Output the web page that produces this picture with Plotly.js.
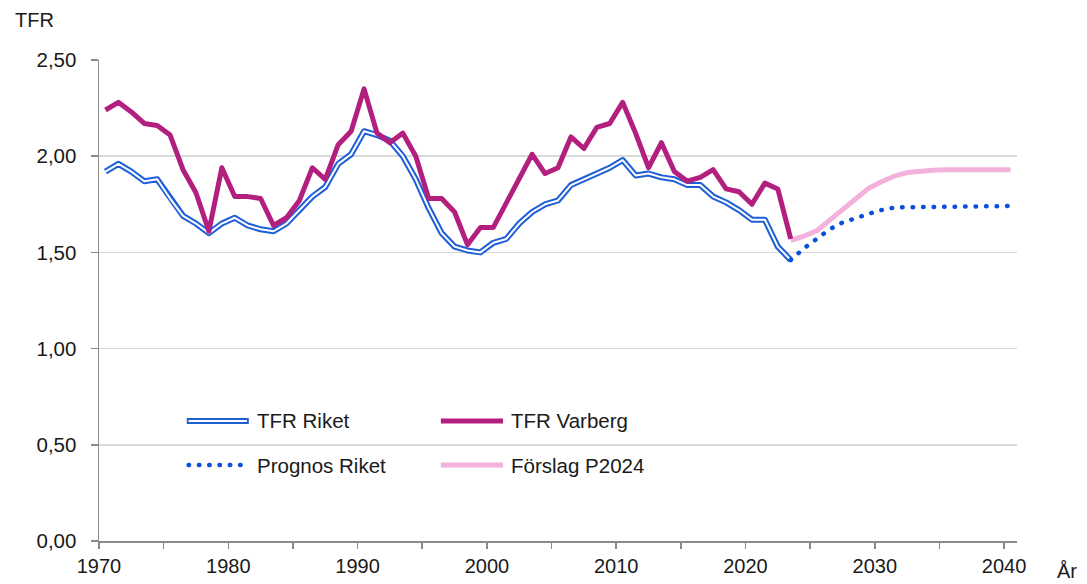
<!DOCTYPE html>
<html>
<head>
<meta charset="utf-8">
<script src="https://cdn.plot.ly/plotly-3.0.1.min.js"></script>
<style>
  html, body { margin: 0; padding: 0; background: #fff; }
  #chart { width: 1087px; height: 584px; }
  .scatterlayer path.js-line { stroke-linejoin: round; }
</style>
</head>
<body>
<div id="chart"></div>
<script>
// ---- Data ----
const histYears = [];
for (let y = 1970; y <= 2023; y++) histYears.push(y);

const tfrRiket = [
  1.92, 1.96, 1.92, 1.87, 1.88, 1.78, 1.69, 1.65, 1.60, 1.65,
  1.68, 1.64, 1.62, 1.61, 1.65, 1.72, 1.79, 1.84, 1.96, 2.01,
  2.13, 2.11, 2.08, 2.00, 1.88, 1.73, 1.60, 1.53, 1.51, 1.50,
  1.55, 1.57, 1.65, 1.71, 1.75, 1.77, 1.85, 1.88, 1.91, 1.94,
  1.98, 1.90, 1.91, 1.89, 1.88, 1.85, 1.85, 1.79, 1.76, 1.72,
  1.67, 1.67, 1.53, 1.46
];

const tfrVarberg = [
  2.24, 2.28, 2.23, 2.17, 2.16, 2.11, 1.93, 1.81, 1.61, 1.94,
  1.79, 1.79, 1.78, 1.64, 1.68, 1.77, 1.94, 1.88, 2.06, 2.13,
  2.35, 2.12, 2.07, 2.12, 2.00, 1.78, 1.78, 1.71, 1.54, 1.63,
  1.63, 1.76, 1.89, 2.01, 1.91, 1.94, 2.10, 2.04, 2.15, 2.17,
  2.28, 2.12, 1.94, 2.07, 1.92, 1.87, 1.89, 1.93, 1.83, 1.815,
  1.75, 1.86, 1.83, 1.57
];

const progYears = [];
for (let y = 2023; y <= 2040; y++) progYears.push(y);

const prognosRiket = [
  1.46, 1.52, 1.57, 1.62, 1.655, 1.68, 1.70, 1.72, 1.733, 1.735,
  1.735, 1.735, 1.735, 1.735, 1.735, 1.738, 1.74, 1.742
];

const forslagP2024 = [
  1.563, 1.584, 1.612, 1.667, 1.728, 1.785, 1.832, 1.867, 1.896, 1.915,
  1.924, 1.927, 1.93, 1.93, 1.93, 1.93, 1.93, 1.93
];

const xTickYears = [1970, 1975, 1980, 1985, 1990, 1995, 2000, 2005, 2010, 2015, 2020, 2025, 2030, 2035, 2040];
const xTickLabels = ["1970", "", "1980", "", "1990", "", "2000", "", "2010", "", "2020", "", "2030", "", "2040"];
const yTickValues = [0, 0.5, 1.0, 1.5, 2.0, 2.5];

const seriesNames = ["TFR Riket", "TFR Varberg", "Prognos Riket", "Förslag P2024"];
const yAxisTitle = "TFR";
const xAxisTitle = "År";

// ---- Styles ----
const blue = "#1f5fd6";
const dotBlue = "#0a4fdc";
const magenta = "#b31f7f";
const pink = "#f3b2dc";
const txt = "#1a1a1a";
const font = "Liberation Sans, Arial, sans-serif";

const traces = [
  { x: histYears, y: tfrRiket, mode: "lines", name: seriesNames[0],
    line: { color: blue, width: 6 }, hoverinfo: "skip", showlegend: false },
  { x: histYears, y: tfrRiket, mode: "lines", name: seriesNames[0] + " inner",
    line: { color: "#ffffff", width: 2 }, hoverinfo: "skip", showlegend: false },
  { x: progYears, y: prognosRiket, mode: "lines", name: seriesNames[2],
    line: { color: dotBlue, width: 4.5, dash: "0.5px,10px" }, showlegend: false },
  { x: progYears, y: forslagP2024, mode: "lines", name: seriesNames[3],
    line: { color: pink, width: 5 }, showlegend: false },
  { x: histYears, y: tfrVarberg, mode: "lines", name: seriesNames[1],
    line: { color: magenta, width: 5 }, showlegend: false }
];

// Manual legend (two columns)
const col1 = { x0: 0.0956, x1: 0.1632, tx: 0.170 };
const col2 = { x0: 0.3724, x1: 0.4401, tx: 0.4466 };
const row1 = 0.2495, row2 = 0.158;

const shapes = [
  { type: "line", xref: "paper", yref: "paper", x0: col1.x0, x1: col1.x1, y0: row1, y1: row1, line: { color: blue, width: 6 } },
  { type: "line", xref: "paper", yref: "paper", x0: col1.x0 + 0.002, x1: col1.x1 - 0.002, y0: row1, y1: row1, line: { color: "#ffffff", width: 2 } },
  { type: "line", xref: "paper", yref: "paper", x0: col2.x0, x1: col2.x1, y0: row1, y1: row1, line: { color: magenta, width: 5 } },
  { type: "line", xref: "paper", yref: "paper", x0: col1.x0 + 0.002, x1: col1.x1, y0: row2, y1: row2, line: { color: dotBlue, width: 4.5, dash: "0.5px,9.8px" } },
  { type: "line", xref: "paper", yref: "paper", x0: col2.x0, x1: col2.x1, y0: row2, y1: row2, line: { color: pink, width: 5 } }
];

const annFont = { family: font, size: 20.5, color: txt };
const annotations = [
  { text: seriesNames[0], xref: "paper", yref: "paper", x: col1.tx, y: row1, xanchor: "left", yanchor: "middle", showarrow: false, font: annFont },
  { text: seriesNames[1], xref: "paper", yref: "paper", x: col2.tx, y: row1, xanchor: "left", yanchor: "middle", showarrow: false, font: annFont },
  { text: seriesNames[2], xref: "paper", yref: "paper", x: col1.tx, y: row2, xanchor: "left", yanchor: "middle", showarrow: false, font: annFont },
  { text: seriesNames[3], xref: "paper", yref: "paper", x: col2.tx, y: row2, xanchor: "left", yanchor: "middle", showarrow: false, font: annFont },
  { text: yAxisTitle, xref: "paper", yref: "paper", x: -0.094, y: 1.083, xanchor: "left", yanchor: "middle", showarrow: false, font: { family: font, size: 20, color: txt } },
  { text: xAxisTitle, xref: "paper", yref: "paper", x: 1.0415, y: -0.062, xanchor: "left", yanchor: "middle", showarrow: false, font: { family: font, size: 20, color: txt } }
];

const layout = {
  width: 1087, height: 584,
  margin: { l: 99, r: 70, t: 60, b: 43, pad: 0 },
  paper_bgcolor: "#ffffff", plot_bgcolor: "#ffffff",
  separators: ", ",
  font: { family: font, size: 20, color: txt },
  showlegend: false,
  xaxis: {
    range: [1969.5, 2040.5],
    tickmode: "array",
    tickvals: xTickYears.map(function (y) { return y - 0.5; }),
    ticktext: xTickLabels,
    showgrid: false, zeroline: false,
    showline: true, linecolor: "#8a8a8a", linewidth: 1.5,
    ticks: "outside", ticklen: 6, tickwidth: 1.5, tickcolor: "#8a8a8a",
    ticklabelstandoff: 0,
    tickfont: { family: font, size: 20, color: txt },
    fixedrange: true
  },
  yaxis: {
    range: [0, 2.5],
    tickmode: "array",
    tickvals: yTickValues,
    tickformat: ".2f",
    showgrid: true, gridcolor: "#d9d9d9", gridwidth: 1.5,
    zeroline: false,
    showline: true, linecolor: "#8a8a8a", linewidth: 1.5,
    ticks: "outside", ticklen: 7, tickwidth: 1.5, tickcolor: "#8a8a8a",
    ticklabelstandoff: 10,
    tickfont: { family: font, size: 20.5, color: txt },
    fixedrange: true
  },
  shapes: shapes,
  annotations: annotations
};

Plotly.newPlot("chart", traces, layout, { staticPlot: true, displayModeBar: false }).then(function (gd) {
  const tr = gd.querySelectorAll(".scatterlayer .trace");
  if (tr[2]) {
    const p = tr[2].querySelector("path.js-line");
    if (p) p.style.strokeLinecap = "round";
  }
  gd.querySelectorAll(".shapelayer path").forEach(function (p, i) {
    if (i === 3) p.style.strokeLinecap = "round";
  });
});
</script>
</body>
</html>
